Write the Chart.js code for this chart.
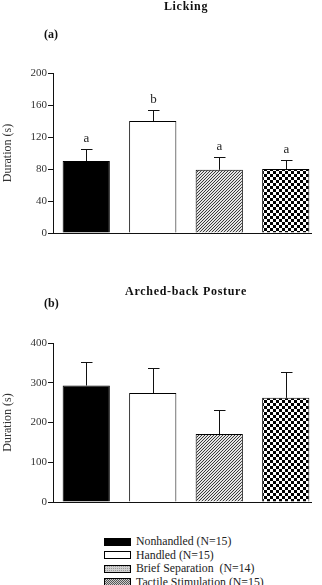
<!DOCTYPE html>
<html>
<head>
<meta charset="utf-8">
<script src="https://cdn.jsdelivr.net/npm/chart.js@4/dist/chart.umd.min.js"></script>
<style>
  html, body { margin:0; padding:0; background:#fff; width:322px; height:585px; overflow:hidden; }
  canvas { position:absolute; left:0; }
  #c1 { top:0; }
  #c2 { top:250px; }
  #legend { position:absolute; left:104px; top:535px; font-family:"Liberation Serif", serif; font-size:11.8px; color:#222; }
  .row { height:13.5px; line-height:13.5px; display:flex; align-items:center; white-space:pre; }
  .sw { width:25px; height:6px; border:1px solid #000; margin-right:5px; flex:none; }
</style>
</head>
<body>
<canvas id="c1" width="322" height="250"></canvas>
<canvas id="c2" width="322" height="260"></canvas>
<div id="legend"></div>
<script>
// ---- data ----
const categories = ['Nonhandled (N=15)', 'Handled (N=15)', 'Brief Separation  (N=14)', 'Tactile Stimulation (N=15)'];
const lickingMeans = [90, 140, 79, 80];
const lickingErrors = [15, 14, 16, 11];
const lickingLetters = ['a', 'b', 'a', 'a'];
const lickingTicks = [0, 40, 80, 120, 160, 200];
const archedMeans = [293, 274, 171, 262];
const archedErrors = [58, 63, 61, 65];
const archedTicks = [0, 100, 200, 300, 400];

// ---- fills ----
function makePattern(kind) {
  const c = document.createElement('canvas');
  const x = c.getContext('2d');
  if (kind === 'stripe') {
    c.width = 3; c.height = 3;
    x.fillStyle = '#e4e4e4'; x.fillRect(0, 0, 3, 3);
    x.fillStyle = '#3a3a3a';
    for (let i = 0; i < 3; i++) x.fillRect(i, 2 - i, 1, 1);
  } else if (kind === 'checker') {
    c.width = 6; c.height = 6;
    x.fillStyle = '#fff'; x.fillRect(0, 0, 6, 6);
    x.fillStyle = '#000'; x.fillRect(0, 0, 3, 3); x.fillRect(3, 3, 3, 3);
  } else if (kind === 'dots') {
    c.width = 2; c.height = 2;
    x.fillStyle = '#d0d0d0'; x.fillRect(0, 0, 2, 2);
    x.fillStyle = '#999'; x.fillRect(0, 0, 1, 1);
  } else if (kind === 'finecheck') {
    c.width = 2; c.height = 2;
    x.fillStyle = '#ccc'; x.fillRect(0, 0, 2, 2);
    x.fillStyle = '#555'; x.fillRect(0, 0, 1, 1); x.fillRect(1, 1, 1, 1);
  }
  return c;
}
const stripeC = makePattern('stripe'), checkC = makePattern('checker');
const ctxTmp = document.createElement('canvas').getContext('2d');
const barFills = ['#000', '#fff', ctxTmp.createPattern(stripeC, 'repeat'), ctxTmp.createPattern(checkC, 'repeat')];
const legendFills = ['#000', '#fff',
  'url(' + makePattern('dots').toDataURL() + ')',
  'url(' + makePattern('finecheck').toDataURL() + ')'];

// ---- annotation plugin: error bars, letters, titles, x axis line ----
const annot = {
  id: 'annot',
  afterDatasetsDraw(chart, args, o) {
    const ctx = chart.ctx, ys = chart.scales.y, ca = chart.chartArea;
    const meta = chart.getDatasetMeta(0);
    ctx.save();
    ctx.strokeStyle = '#111'; ctx.lineWidth = 1;
    // x axis line
    ctx.beginPath();
    ctx.moveTo(ca.left, Math.round(ca.bottom) + 0.5);
    ctx.lineTo(ca.right - 7, Math.round(ca.bottom) + 0.5);
    ctx.stroke();
    meta.data.forEach((bar, i) => {
      const x = Math.round(bar.x) + 0.5;
      const top = Math.round(ys.getPixelForValue(o.means[i] + o.errors[i])) + 0.5;
      ctx.beginPath();
      ctx.moveTo(x, bar.y); ctx.lineTo(x, top);
      ctx.moveTo(x - 5.5, top); ctx.lineTo(x + 6, top);
      ctx.stroke();
      if (o.letters) {
        ctx.fillStyle = '#222';
        ctx.font = '13px "Liberation Serif"';
        ctx.textAlign = 'center'; ctx.textBaseline = 'alphabetic';
        ctx.fillText(o.letters[i], x, top - 8);
      }
    });
    ctx.fillStyle = '#111';
    ctx.font = 'bold 12px "Liberation Serif"';
    ctx.textBaseline = 'middle';
    ctx.letterSpacing = '0.7px';
    ctx.textAlign = 'center';
    ctx.fillText(o.title, (ca.left + ca.right) / 2, o.titleY);
    ctx.letterSpacing = '0px';
    ctx.textAlign = 'left';
    ctx.fillText(o.panel, 44, o.panelY);
    ctx.restore();
  }
};

function makeChart(id, means, errors, ticks, letters, title, titleY, panel, panelY, padTop, padBottom) {
  return new Chart(document.getElementById(id), {
    type: 'bar',
    data: {
      labels: categories,
      datasets: [{
        data: means,
        backgroundColor: barFills,
        borderColor: '#000',
        borderWidth: 1,
        barPercentage: 0.71,
        categoryPercentage: 1
      }]
    },
    options: {
      responsive: false,
      animation: false,
      devicePixelRatio: 1,
      layout: { padding: { top: padTop, bottom: padBottom, left: 0, right: 3 } },
      plugins: {
        legend: { display: false },
        tooltip: { enabled: false },
        annot: { means, errors, letters, title, titleY, panel, panelY }
      },
      scales: {
        x: {
          ticks: { display: false },
          grid: { display: false },
          border: { display: false },
          afterFit(s) { s.height = 0; }
        },
        y: {
          min: ticks[0], max: ticks[ticks.length - 1],
          afterBuildTicks(s) { s.ticks = ticks.map(v => ({ value: v })); },
          ticks: { font: { family: 'Liberation Serif', size: 11 }, color: '#333', padding: 1 },
          grid: { drawOnChartArea: false, tickLength: 5, tickColor: '#111' },
          border: { color: '#111', width: 1 },
          title: { display: true, text: 'Duration (s)', font: { family: 'Liberation Serif', size: 12 }, color: '#333', padding: { top: 1, bottom: 0 } },
          afterFit(s) { s.width = 53; }
        }
      }
    },
    plugins: [annot]
  });
}

makeChart('c1', lickingMeans, lickingErrors, lickingTicks, lickingLetters, 'Licking', 7, '(a)', 35, 73, 17);
makeChart('c2', archedMeans, archedErrors, archedTicks, null, 'Arched-back Posture', 42, '(b)', 54, 93, 8);

// ---- legend ----
const lg = document.getElementById('legend');
categories.forEach((c, i) => {
  const r = document.createElement('div'); r.className = 'row';
  const s = document.createElement('span'); s.className = 'sw';
  s.style.background = legendFills[i];
  const t = document.createElement('span'); t.textContent = c;
  r.appendChild(s); r.appendChild(t); lg.appendChild(r);
});
</script>
</body>
</html>
